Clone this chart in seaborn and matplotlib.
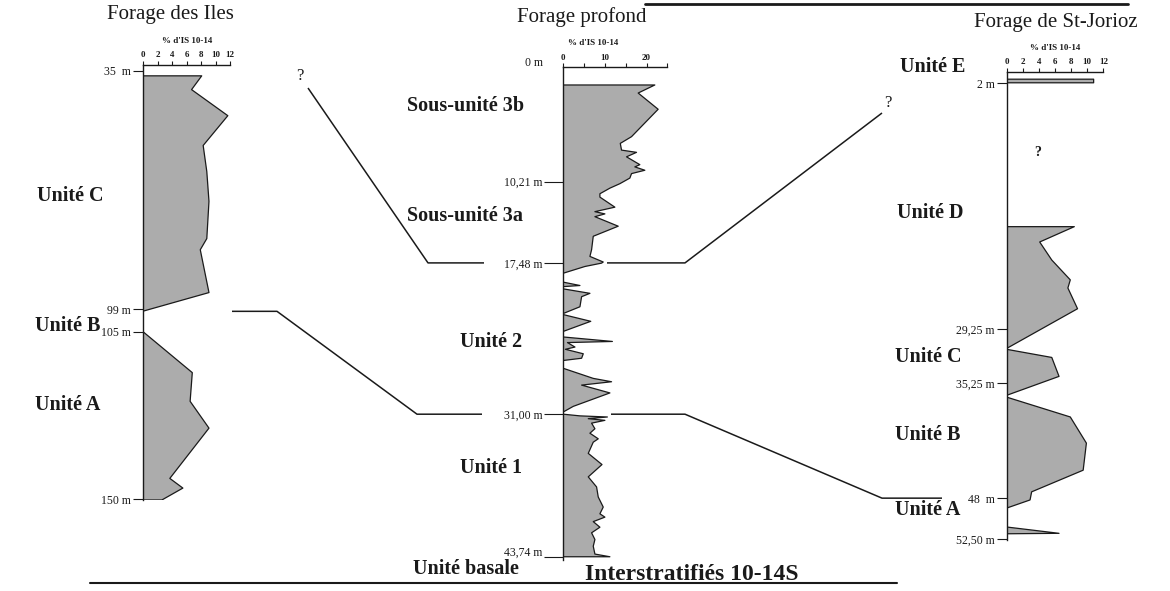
import matplotlib
matplotlib.use("Agg")
import matplotlib.pyplot as plt
import matplotlib.transforms as mtransforms
import seaborn as sns

W, H = 1170, 591

# ---- Forage des Iles : profondeur (m) / % d'IS 10-14 ----
iles_depth = [36.3, 36.3, 40.0, 47.0, 55.0, 62.0, 70.0, 80.0, 83.0, 94.5, 99.5,
              105.0, 116.0, 123.7, 130.9, 144.4, 147.0, 150.2, 150.2]
iles_is = [0, 8.1, 6.7, 11.7, 8.3, 8.8, 9.1, 8.8, 7.9, 9.1, 0,
           0, 6.8, 6.5, 9.1, 3.7, 5.5, 2.6, 0]
iles_ticks = [35, 99, 105, 150]
iles_ticklabels = ["35  m", "99 m", "105 m", "150 m"]

# ---- Forage profond ----
prof_depth = [1.58, 1.58, 2.3, 3.75, 6.2, 6.8, 7.4, 7.6, 8.0, 8.7, 8.9, 9.2, 9.5, 9.9,
              10.4, 10.8, 11.3, 11.6, 12.5, 12.9, 13.1, 13.35, 14.2, 15.1, 16.3, 16.9,
              17.4, 17.5, 17.8, 18.4,
              19.2, 19.5, 19.6, 19.8, 20.2, 20.5, 21.4, 22.0,
              22.1, 22.7, 23.6, 24.1, 24.5, 24.6, 25.0, 25.2, 25.6, 26.0, 26.2,
              26.9, 27.8, 28.1, 28.4, 29.1, 30.3, 30.8,
              31.0, 31.15, 31.25, 31.4, 31.55, 31.8, 32.3, 32.7, 33.2, 33.5, 34.5, 35.5,
              36.6, 37.5, 38.4, 39.3, 39.9, 40.2, 40.6, 41.1, 41.6, 42.2, 42.8, 43.5,
              43.74, 43.74]
prof_is = [0, 22.0, 18.0, 22.8, 16.4, 13.7, 14.0, 17.6, 15.2, 18.4, 17.2, 19.6, 16.4, 16.0,
           13.6, 11.2, 8.8, 8.8, 12.4, 7.6, 10.0, 7.6, 13.2, 7.2, 6.8, 6.4,
           9.6, 9.2, 5.2, 0,
           0, 4.0, 0, 0, 6.4, 4.4, 4.0, 0,
           0, 6.6, 0, 0, 11.8, 1.0, 2.8, 0.5, 4.8, 4.4, 0,
           0, 7.2, 11.6, 4.4, 11.2, 2.4, 0,
           0, 4.0, 10.6, 6.0, 10.0, 6.8, 7.6, 6.4, 8.4, 7.2, 6.0, 9.3,
           6.0, 8.0, 8.4, 9.6, 8.8, 10.0, 7.2, 8.8, 6.8, 7.6, 7.2, 7.6,
           11.2, 0]
prof_ticks = [10.21, 17.48, 31.00, 43.74]
prof_ticklabels = ["10,21 m", "17,48 m", "31,00 m", "43,74 m"]

# ---- Forage de St-Jorioz ----
jor_depth = [1.55, 1.55, 1.95, 1.95,
             17.9, 17.9, 19.6, 21.6, 23.8, 24.7, 27.0, 31.4,
             31.5, 32.4, 34.5, 36.6,
             36.8, 39.0, 41.9, 44.9, 47.3, 48.2, 49.1,
             51.2, 51.9, 51.95]
jor_is = [0, 10.8, 10.8, 0,
          0, 8.4, 4.1, 5.6, 7.9, 7.6, 8.8, 0,
          0, 5.6, 6.5, 0,
          0, 7.9, 9.9, 9.5, 3.1, 2.9, 0,
          0, 6.5, 0]
jor_ticks = [2, 29.25, 35.25, 48, 52.5]
jor_ticklabels = ["2 m", "29,25 m", "35,25 m", "48  m", "52,50 m"]

FILL = "#acacac"
INK = "#1a1a1a"

sns.set_theme(style="white")
plt.rcParams["font.family"] = ["Liberation Serif", "DejaVu Serif"]
plt.rcParams["text.color"] = INK

fig = plt.figure(figsize=(W / 100, H / 100), dpi=100)
fig.patch.set_facecolor("white")

# full-figure layer (pixel units) for titles, unit names and correlation lines
ov = fig.add_axes([0, 0, 1, 1])
ov.set_xlim(0, W)
ov.set_ylim(H, 0)
ov.axis("off")


def box(x0, y0, x1, y1):
    return [x0 / W, 1 - y1 / H, (x1 - x0) / W, (y1 - y0) / H]


def core(rect, depth, vals, xmax, xticks, xlabels, minor, yticks, ylabels, ylim, ticklen):
    ax = fig.add_axes(rect)
    ax.patch.set_alpha(0)
    ax.fill_betweenx(depth, 0, vals, facecolor=FILL, edgecolor="none", lw=0)
    sns.lineplot(x=vals, y=depth, orient="y", sort=False, estimator=None,
                 color=INK, lw=0.9, ax=ax, legend=False)
    ax.set_xlim(0, xmax)
    ax.set_ylim(*ylim)
    ax.set_xlabel("")
    ax.set_ylabel("")
    ax.grid(False)
    for s in ("right", "bottom"):
        ax.spines[s].set_visible(False)
    for s in ("left", "top"):
        ax.spines[s].set_color(INK)
        ax.spines[s].set_linewidth(1.0)
    ax.xaxis.tick_top()
    ax.set_xticks(xticks)
    ax.set_xticklabels(xlabels, fontsize=6.5, fontweight="bold")
    ax.set_xticks(minor, minor=True)
    ax.tick_params(axis="x", which="both", top=True, bottom=False, direction="out",
                   length=3, width=0.8, pad=1, colors=INK)
    ax.set_yticks(yticks)
    ax.set_yticklabels(ylabels, fontsize=8.5)
    ax.tick_params(axis="y", left=True, right=False, direction="out",
                   length=ticklen, width=0.8, pad=1.5, colors=INK)
    return ax


ax_iles = core(box(143, 65, 230, 500), iles_depth, iles_is, 12,
               list(range(0, 13, 2)), [str(v) for v in range(0, 13, 2)], [],
               iles_ticks, iles_ticklabels, (150.2, 33.39), 7)
ax_prof = core(box(563.3, 67.3, 667.3, 560), prof_depth, prof_is, 25,
               [0, 10, 20], ["0", "10", "20"], [5, 15, 25],
               prof_ticks, prof_ticklabels, (44.03, 0), 13.5)
ax_jor = core(box(1006.7, 71.7, 1103.3, 540), jor_depth, jor_is, 12,
              list(range(0, 13, 2)), [str(v) for v in range(0, 13, 2)], [],
              jor_ticks, jor_ticklabels, (52.64, 0.72), 7)

# the lowest depth label of the deep core sits raised above its tick
lbl = ax_prof.get_yticklabels()[-1]
lbl.set_transform(lbl.get_transform()
                  + mtransforms.ScaledTranslation(0, 4 / 72, fig.dpi_scale_trans))


def ypix(ax, depth):
    disp = ax.transData.transform((0, depth))
    return ov.transData.inverted().transform(disp)[1]


# titles and axis captions
title_kw = dict(fontsize=15, ha="center", va="center")
ov.text(170, 15, "Forage des Iles", **title_kw)
ov.text(582, 17, "Forage profond", **title_kw)
ov.text(1056, 23, "Forage de St-Jorioz", **title_kw)
cap_kw = dict(fontsize=6.5, fontweight="bold", ha="center", va="center")
ov.text(187, 41, "% d'IS 10-14", **cap_kw)
ov.text(593, 43, "% d'IS 10-14", **cap_kw)
ov.text(1055, 48, "% d'IS 10-14", **cap_kw)
ov.text(543, ypix(ax_prof, 0) - 4, "0 m", fontsize=8.5, ha="right", va="center")

# unit names
unit_kw = dict(fontsize=14.5, fontweight="bold", ha="left", va="center")
for x, y, s in [(37, 196, "Unité C"), (35, 326, "Unité B"), (35, 405, "Unité A"),
                (407, 106, "Sous-unité 3b"), (407, 216, "Sous-unité 3a"),
                (460, 342, "Unité 2"), (460, 468, "Unité 1"), (413, 569, "Unité basale"),
                (900, 67, "Unité E"), (897, 213, "Unité D"), (895, 357, "Unité C"),
                (895, 435, "Unité B"), (895, 510, "Unité A")]:
    ov.text(x, y, s, **unit_kw)
ov.text(585, 574, "Interstratifiés 10-14S", fontsize=17, fontweight="bold",
        ha="left", va="center")

# question marks
q_kw = dict(fontsize=12, ha="center", va="center")
ov.text(300, 76, "?", **q_kw)
ov.text(888, 103, "?", **q_kw)
ov.text(1038, 153, "?", fontsize=10, fontweight="bold", ha="center", va="center")

# correlation lines between the three cores
line_kw = dict(color=INK, lw=1.1, solid_capstyle="butt")
y1748 = ypix(ax_prof, 17.48)
y31 = ypix(ax_prof, 31.00)
y99 = ypix(ax_iles, 99) + 2
y48 = ypix(ax_jor, 48)
ov.plot([308, 428, 484], [88, y1748, y1748], **line_kw)
ov.plot([607, 685, 882], [y1748, y1748, 113], **line_kw)
ov.plot([232, 277, 417, 482], [y99, y99, y31, y31], **line_kw)
ov.plot([611, 685, 882, 942], [y31, y31, y48, y48], **line_kw)

# page rules
ov.plot([90, 897], [583, 583], color=INK, lw=1.5)
ov.plot([645, 1128], [3.5, 3.5], color=INK, lw=2)

fig.savefig("out.png", dpi=100, facecolor="white")
